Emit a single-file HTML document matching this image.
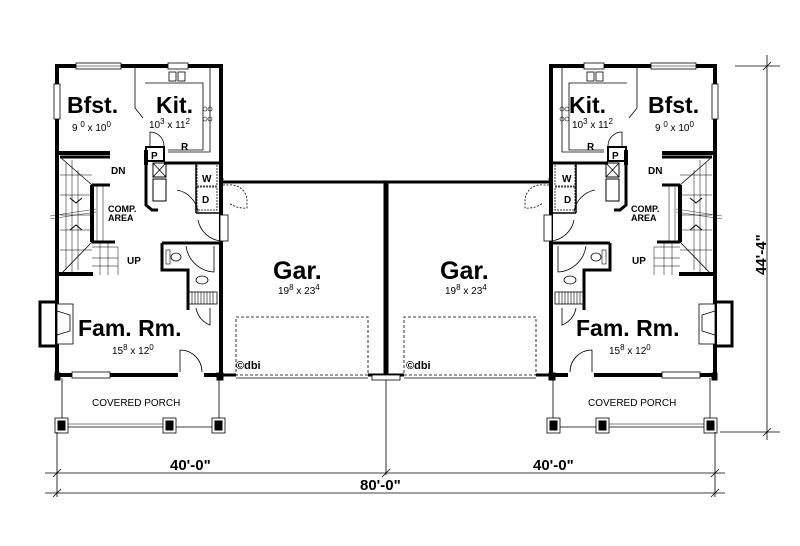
<!DOCTYPE html>
<html><head><meta charset="utf-8"><style>
html,body{margin:0;padding:0;background:#fff;}
svg{display:block;}
text{font-family:"Liberation Sans",Arial,sans-serif;fill:#000;}
.b{font-weight:bold;}
</style></head><body>
<svg width="800" height="546" viewBox="0 0 800 546" xmlns="http://www.w3.org/2000/svg">
<defs>
<g id="unit" fill="none" stroke="#000">
  <!-- outer walls -->
  <path d="M57 66 H221 V375 H57 Z" stroke-width="4"/>
  <!-- top windows -->
  <rect x="76" y="63" width="45" height="6" fill="#fff" stroke-width="0.8"/>
  <line x1="76" y1="66" x2="121" y2="66" stroke-width="0.6"/>
  <rect x="168" y="63" width="20" height="6" fill="#fff" stroke-width="0.8"/>
  <rect x="54" y="84" width="6" height="35" fill="#fff" stroke-width="0.8"/>
  <rect x="72" y="372" width="38" height="6" fill="#fff" stroke-width="0.8"/>
  <!-- kitchen counters -->
  <path d="M135 68 V108 L143 118 M145 83 H203 V150 H168" stroke-width="0.8"/>
  <path d="M210 68 V152 H168" stroke-width="0.8"/>
  <rect x="169" y="72" width="7" height="9" stroke-width="0.8"/>
  <rect x="178" y="72" width="7" height="9" stroke-width="0.8"/>
  <circle cx="205" cy="109" r="2" stroke-width="0.6"/><circle cx="210" cy="109" r="2" stroke-width="0.6"/>
  <circle cx="205" cy="119" r="2" stroke-width="0.6"/><circle cx="210" cy="119" r="2" stroke-width="0.6"/>
  <!-- pantry / fridge area -->
  <path d="M57 153 H110" stroke-width="4"/>
  <path d="M146 150 V165" stroke-width="4"/>
  <rect x="146" y="147" width="18" height="14" stroke-width="2"/>
  <path d="M150 147 V132 A14 14 0 0 1 164 146" stroke-width="0.8"/>
  <path d="M164 163 H221" stroke-width="3"/>
  <rect x="153" y="163" width="13" height="14" stroke-width="1"/>
  <path d="M153 163 L166 177 M166 163 L153 177" stroke-width="0.8"/>
  <rect x="153" y="179" width="13" height="22" stroke-width="1"/>
  <path d="M146 165 V205 L152 210 H158" stroke-width="3"/>
  <rect x="197" y="164" width="20" height="22" stroke-width="0.8" stroke-dasharray="2 1"/>
  <rect x="197" y="187" width="20" height="23" stroke-width="0.8" stroke-dasharray="2 1"/>
  <path d="M196 213 H221 M196 163 V213" stroke-width="1.5"/>
  <path d="M177 190 A26 26 0 0 1 198 212" stroke-width="0.8"/>
  <path d="M198 220 A26 26 0 0 0 221 241" stroke-width="0.8"/>
  <rect x="220" y="215" width="8" height="26" fill="#fff" stroke-width="0.8"/>
  <!-- stairs -->
  <path d="M60 157 H110" stroke-width="3"/>
  <path d="M92 185 V242" stroke-width="4"/>
  <path d="M92 185 H110 M92 242 H115" stroke-width="3"/>
  <path d="M60 157 L92 185 M60 275 L92 242" stroke-width="0.8"/>
  <path d="M66 163 V270 M72 160 V272 M78 170 V270" stroke-width="0.5"/>
  <path d="M60 175 H92 M60 195 H92 M60 215 H92 M60 230 H92 M60 250 H92" stroke-width="0.5"/>
  <path d="M92 247 H118 V275 M100 242 V275 M108 242 V275 M92 258 H118 M92 266 H118" stroke-width="0.5"/>
  <path d="M97 185 V242 M103 185 V242" stroke-width="0.5"/>
  <path d="M70 198 L76 203 L82 198 M70 230 L76 225 L82 230" stroke-width="1"/>
  <path d="M50 216 L96 209 M50 219 L96 212" stroke-width="0.4"/>
  <path d="M57 274 H93" stroke-width="4"/>
  <!-- half bath -->
  <path d="M162 243 V270 H188 V310 M162 243 H220" stroke-width="3"/>
  <ellipse cx="176" cy="257" rx="5" ry="4" stroke-width="0.8"/>
  <rect x="166" y="250" width="4" height="14" stroke-width="0.6"/>
  <ellipse cx="202" cy="280" rx="6" ry="4" stroke-width="0.8"/>
  <path d="M186 246 A30 30 0 0 0 214 272 V246" stroke-width="0.8"/>
  <rect x="189" y="292" width="28" height="12" stroke-width="0.8"/>
  <path d="M192 292 V304 M195 292 V304 M198 292 V304 M201 292 V304 M204 292 V304 M207 292 V304 M210 292 V304 M213 292 V304" stroke-width="0.6"/>
  <path d="M196 308 A22 22 0 0 0 210 325 V308" stroke-width="0.8"/>
  <!-- fireplace -->
  <path d="M57 302 H40 V346 H57" stroke-width="3"/>
  <rect x="57" y="304" width="16" height="40" fill="#fff" stroke-width="0.8"/>
  <path d="M57 311 L70 315 V331 L57 335" stroke-width="0.8"/>
  <!-- front door -->
  <path d="M180 375 V350 A22 22 0 0 1 202 372" stroke-width="0.8"/>
  <rect x="178" y="372" width="26" height="6" fill="#fff" stroke="none"/>
  <!-- garage -->
  <path d="M221 182 H387" stroke-width="3"/>
  <rect x="236" y="317" width="132" height="58" stroke-width="0.8" stroke-dasharray="3 2"/>
  <path d="M221 375 H236 M368 375 H385" stroke-width="3"/>
  <path d="M223 178 V185 H229 A16 16 0 0 1 247 200 L247 208 A26 26 0 0 1 229 203" stroke-width="0.8" stroke-dasharray="2 1.5"/>
  <path d="M236 378 H368" stroke-width="0.8"/>
  <!-- porch -->
  <path d="M62 378 V420 M219 378 V420" stroke-width="0.8"/>
  <path d="M68 427 H163 M175 427 H214" stroke-width="0.8"/>
  <path d="M68 424 H163" stroke-width="0.6"/>
  <rect x="55" y="418" width="13" height="15" fill="#fff" stroke-width="0.8"/>
  <rect x="58" y="421" width="7" height="9" fill="#000"/>
  <rect x="163" y="418" width="13" height="15" fill="#fff" stroke-width="0.8"/>
  <rect x="166" y="421" width="7" height="9" fill="#000"/>
  <rect x="212" y="418" width="13" height="15" fill="#fff" stroke-width="0.8"/>
  <rect x="215" y="421" width="7" height="9" fill="#000"/>
  <rect x="55" y="373" width="5" height="7" fill="#000"/>
  <rect x="217" y="373" width="6" height="7" fill="#000"/>
</g>
</defs>
<use href="#unit"/>
<use href="#unit" transform="translate(772,0) scale(-1,1)"/>
<!-- center wall -->
<path d="M386 182 V378" stroke="#000" stroke-width="5"/>
<rect x="372" y="375" width="28" height="5" fill="#fff" stroke="#000" stroke-width="0.8"/>
<!-- dimensions -->
<g stroke="#000" fill="none" stroke-width="0.8">
  <path d="M386 380 V475"/>
  <path d="M57 432 V497 M715 432 V497"/>
  <path d="M45 473 H725 M45 493 H725"/>
  <path d="M53 477 L61 469 M382 477 L390 469 M711 477 L719 469 M53 497 L61 489 M711 497 L719 489"/>
  <path d="M767 55 V440 M735 66 H780 M720 432 H780 M763 70 L771 62 M763 436 L771 428"/>
</g>
<!-- left labels -->
<text x="67" y="113" class="b" font-size="23">Bfst.</text>
<text x="72" y="131" font-size="10">9 <tspan dy="-4" font-size="8">0</tspan><tspan dy="4"> x 10</tspan><tspan dy="-4" font-size="8">0</tspan></text>
<text x="156" y="113" class="b" font-size="23">Kit.</text>
<text x="149" y="128" font-size="10">10<tspan dy="-4" font-size="8">3</tspan><tspan dy="4"> x 11</tspan><tspan dy="-4" font-size="8">2</tspan></text>
<text x="181" y="150" class="b" font-size="10">R</text>
<text x="151" y="159" class="b" font-size="10">P</text>
<text x="111" y="174" class="b" font-size="10">DN</text>
<text x="202" y="182" class="b" font-size="10">W</text>
<text x="202" y="203" class="b" font-size="10">D</text>
<text x="108" y="212" class="b" font-size="9">COMP.</text>
<text x="108" y="221" class="b" font-size="9">AREA</text>
<text x="127" y="264" class="b" font-size="10">UP</text>
<text x="273" y="279" class="b" font-size="25">Gar.</text>
<text x="278" y="294" font-size="10">19<tspan dy="-4" font-size="8">8</tspan><tspan dy="4"> x 23</tspan><tspan dy="-4" font-size="8">4</tspan></text>
<text x="78" y="336" class="b" font-size="23">Fam. Rm.</text>
<text x="112" y="354" font-size="10">15<tspan dy="-4" font-size="8">8</tspan><tspan dy="4"> x 12</tspan><tspan dy="-4" font-size="8">0</tspan></text>
<text x="236" y="369" class="b" font-size="11">©dbi</text>
<text x="92" y="406" font-size="10">COVERED PORCH</text>
<!-- right labels -->
<text x="569" y="113" class="b" font-size="23">Kit.</text>
<text x="572" y="128" font-size="10">10<tspan dy="-4" font-size="8">3</tspan><tspan dy="4"> x 11</tspan><tspan dy="-4" font-size="8">2</tspan></text>
<text x="648" y="113" class="b" font-size="23">Bfst.</text>
<text x="655" y="131" font-size="10">9 <tspan dy="-4" font-size="8">0</tspan><tspan dy="4"> x 10</tspan><tspan dy="-4" font-size="8">0</tspan></text>
<text x="587" y="150" class="b" font-size="10">R</text>
<text x="612" y="159" class="b" font-size="10">P</text>
<text x="648" y="174" class="b" font-size="10">DN</text>
<text x="562" y="182" class="b" font-size="10">W</text>
<text x="564" y="203" class="b" font-size="10">D</text>
<text x="631" y="212" class="b" font-size="9">COMP.</text>
<text x="631" y="221" class="b" font-size="9">AREA</text>
<text x="632" y="264" class="b" font-size="10">UP</text>
<text x="440" y="279" class="b" font-size="25">Gar.</text>
<text x="445" y="294" font-size="10">19<tspan dy="-4" font-size="8">8</tspan><tspan dy="4"> x 23</tspan><tspan dy="-4" font-size="8">4</tspan></text>
<text x="576" y="336" class="b" font-size="23">Fam. Rm.</text>
<text x="609" y="354" font-size="10">15<tspan dy="-4" font-size="8">8</tspan><tspan dy="4"> x 12</tspan><tspan dy="-4" font-size="8">0</tspan></text>
<text x="406" y="369" class="b" font-size="11">©dbi</text>
<text x="588" y="406" font-size="10">COVERED PORCH</text>
<!-- dimension text -->
<text x="170" y="470" class="b" font-size="15">40'-0"</text>
<text x="533" y="470" class="b" font-size="15">40'-0"</text>
<text x="360" y="490" class="b" font-size="15">80'-0"</text>
<text transform="translate(766,275) rotate(-90)" class="b" font-size="15">44'-4"</text>
</svg>
</body></html>
